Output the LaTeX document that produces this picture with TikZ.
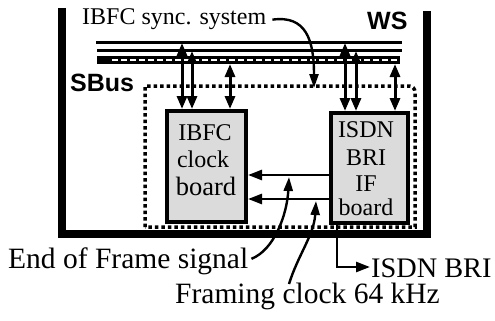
\documentclass[tikz,border=0pt]{standalone}
\usepackage{fontspec}
\setmainfont{Liberation Serif}
\newfontfamily\hvfont{Liberation Sans}
\usetikzlibrary{arrows.meta}
\begin{document}
\begin{tikzpicture}[x=1pt,y=-1pt,
  board/.style={draw,line width=4pt,fill=black!14,inner sep=0pt,anchor=north west},
  btxt/.style={inner sep=0pt,anchor=base,font=\fontsize{24}{28}\selectfont},
  lbl/.style={inner sep=0pt,anchor=base west,font=\fontsize{29.5}{32}\selectfont},
  bold/.style={inner sep=0pt,anchor=base west,font=\hvfont\bfseries\fontsize{25}{28}\selectfont},
  busarr/.style={line width=3pt,{Triangle[length=13pt,width=10pt]}-{Triangle[length=13pt,width=10pt]}},
  sigarr/.style={line width=2.6pt,-{Triangle[length=14pt,width=10pt]}},
  curv/.style={line width=2.4pt,-{Triangle[length=14pt,width=9pt]}},
  sbus/.style={line width=3.5pt,dash pattern=on 3.5pt off 3pt}
]
\useasboundingbox (0,0) rectangle (495,321);
% WS frame
\draw[line width=8pt] (62,8) -- (62,234) -- (427,234) -- (427,11);
\node[bold] (ws) at (367,30) {WS};
\node[bold] (sb) at (70,91) {SBus};
% bus lines
\draw[line width=3pt] (96,43) -- (402,43);
\draw[line width=3pt] (97,51) -- (402,51);
\draw[line width=8pt] (97,60) -- (400,60);
\draw[line width=2.6pt,white,dash pattern=on 6pt off 3pt] (112,60) -- (398,60);
% SBus dotted region
\draw[sbus] (145,227) -- (145,86) -- (409,86) to[out=0,in=90] (415,92) -- (415,227) -- cycle;
% boards
\node[board,minimum width=79pt,minimum height=111pt] (ibfc) at (165,109) {};
\node[board,minimum width=77pt,minimum height=110pt] (isdn) at (329,111) {};
\node[btxt] (i1) at (205,140) {IBFC};
\node[btxt] (i2) at (203,167) {clock};
\node[btxt,font=\fontsize{26.5}{28}\selectfont] (i3) at (206,195) {board};
\node[btxt] (s1) at (366,137) {ISDN};
\node[btxt] (s2) at (366,165) {BRI};
\node[btxt] (s3) at (366,191) {IF};
\node[btxt] (s4) at (366,215) {board};
% bus arrows
\coordinate (a1) at (182,43);
\coordinate (a2) at (192,51);
\coordinate (a3) at (230,64);
\coordinate (c1) at (345,43);
\coordinate (c2) at (356,51);
\coordinate (c3) at (395,64);
\draw[busarr] (a1) -- (a1 |- ibfc.north);
\draw[busarr] (a2) -- (a2 |- ibfc.north);
\draw[busarr] (a3) -- (a3 |- ibfc.north);
\draw[busarr] (c1) -- (c1 |- isdn.north);
\draw[busarr] (c2) -- (c2 |- isdn.north);
\draw[busarr] (c3) -- (c3 |- isdn.north);
% signals between boards
\coordinate (y1) at (0,175);
\coordinate (y2) at (0,199);
\draw[sigarr] (isdn.west |- y1) -- (ibfc.east |- y1);
\draw[sigarr] (isdn.west |- y2) -- (ibfc.east |- y2);
% labels
\node[inner sep=0pt,anchor=base west,font=\fontsize{24}{28}\selectfont] (sync) at (82,25) {IBFC sync. system};
\node[lbl] (eof) at (8,268) {End of Frame signal};
\node[lbl] (fc) at (175,303) {Framing clock 64 kHz};
\node[lbl,font=\fontsize{28.3}{32}\selectfont] (bri) at (371,277) {ISDN BRI};
\coordinate (e1) at (289,177);
\coordinate (e2) at (316,201);
\coordinate (t1) at (314,88);
\coordinate (f0) at (289,284);
\draw[curv] ([xshift=6pt]sync.east) .. controls (306,15) and (314,40) .. (t1);
\draw[curv] ([xshift=3pt,yshift=2pt]eof.east) .. controls (274,250) and (287,215) .. (e1);
\draw[curv] (f0) .. controls (298,255) and (314,235) .. (e2);
% ISDN BRI line
\coordinate (d0) at (337,267);
\draw[sigarr] (d0 |- isdn.south) -- (d0) -- ([xshift=-1pt]bri.west |- d0);
\end{tikzpicture}
\end{document}
